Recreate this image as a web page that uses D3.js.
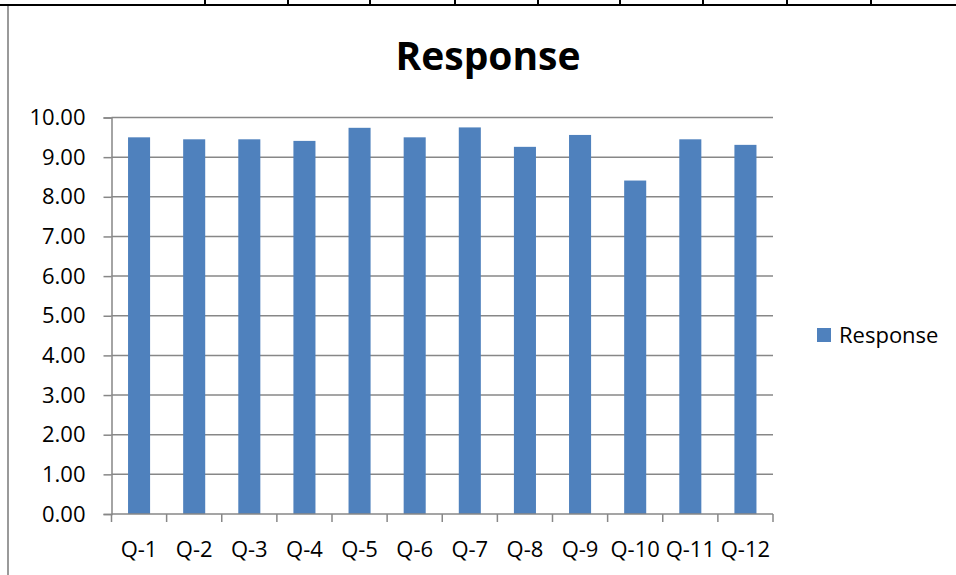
<!DOCTYPE html>
<html>
<head>
<meta charset="utf-8">
<script src="https://cdn.jsdelivr.net/npm/d3@7"></script>
<style>
  html, body { margin: 0; padding: 0; background: #fff; }
  svg { display: block; }
</style>
</head>
<body>
<svg id="chart" width="956" height="575"></svg>
<script>
// ---- data ----
const categories = ["Q-1","Q-2","Q-3","Q-4","Q-5","Q-6","Q-7","Q-8","Q-9","Q-10","Q-11","Q-12"];
const responseValues = [9.50, 9.45, 9.45, 9.41, 9.74, 9.50, 9.75, 9.26, 9.56, 8.41, 9.45, 9.31];
const yTickValues = [0, 1, 2, 3, 4, 5, 6, 7, 8, 9, 10];
const seriesName = "Response";
const chartTitle = "Response";

// ---- layout ----
const W = 956, H = 575;
const plot = { left: 111.5, right: 773, top: 117.5, bottom: 514 };
const font = "'Open Sans', Lato, sans-serif";
const barColor = "#4F81BD";
const gridColor = "#878787";
const labelSize = 22;

const svg = d3.select("#chart");

// spreadsheet cell borders (decoration)
const cellBorderX = [205, 288, 370, 455, 538, 620, 703, 787, 871];
svg.append("line").attr("x1", 0).attr("x2", W).attr("y1", 5).attr("y2", 5)
  .attr("stroke", "#000").attr("stroke-width", 2.2);
svg.selectAll("line.cell").data(cellBorderX).join("line")
  .attr("class", "cell")
  .attr("x1", d => d).attr("x2", d => d).attr("y1", 0).attr("y2", 5)
  .attr("stroke", "#000").attr("stroke-width", 2);
svg.append("line").attr("x1", 8).attr("x2", 8).attr("y1", 6).attr("y2", H)
  .attr("stroke", "#9a9a9a").attr("stroke-width", 2);

// scales
const x = d3.scaleBand().domain(categories).range([plot.left, plot.right])
  .paddingInner(0.6).paddingOuter(0.3);
const y = d3.scaleLinear().domain([0, 10]).range([plot.bottom, plot.top]);

// gridlines
svg.append("g").selectAll("line").data(yTickValues.filter(d => d > 0)).join("line")
  .attr("x1", plot.left).attr("x2", plot.right)
  .attr("y1", d => y(d)).attr("y2", d => y(d))
  .attr("stroke", gridColor).attr("stroke-width", 1.5);

// y axis
const yAxis = d3.axisLeft(y).tickValues(yTickValues).tickSize(8).tickPadding(18)
  .tickFormat(d3.format(".2f"));
const gy = svg.append("g").attr("transform", `translate(${plot.left},0)`).call(yAxis);
gy.select(".domain").attr("stroke", gridColor).attr("stroke-width", 1.5);
gy.selectAll(".tick line").attr("stroke", gridColor).attr("stroke-width", 1.5);
gy.selectAll(".tick text").attr("font-family", font).attr("font-size", labelSize)
  .attr("fill", "#000");

// bars
svg.append("g").selectAll("rect").data(categories).join("rect")
  .attr("x", d => x(d))
  .attr("width", x.bandwidth())
  .attr("y", (d, i) => y(responseValues[i]))
  .attr("height", (d, i) => y(0) - y(responseValues[i]))
  .attr("fill", barColor);

// x axis line and ticks at category boundaries
const nCat = categories.length;
svg.append("line").attr("x1", plot.left).attr("x2", plot.right)
  .attr("y1", y(0)).attr("y2", y(0)).attr("stroke", gridColor).attr("stroke-width", 1.5);
svg.append("g").selectAll("line").data(d3.range(nCat + 1)).join("line")
  .attr("x1", i => plot.left + i * (plot.right - plot.left) / nCat)
  .attr("x2", i => plot.left + i * (plot.right - plot.left) / nCat)
  .attr("y1", y(0)).attr("y2", y(0) + 8)
  .attr("stroke", gridColor).attr("stroke-width", 1.5);

// x labels
svg.append("g").selectAll("text").data(categories).join("text")
  .attr("x", d => x(d) + x.bandwidth() / 2)
  .attr("y", 557)
  .attr("text-anchor", "middle")
  .attr("font-family", font).attr("font-size", labelSize).attr("fill", "#000")
  .text(d => d);

// title
svg.append("text").attr("x", 488).attr("y", 70).attr("text-anchor", "middle")
  .attr("font-family", font).attr("font-weight", "bold").attr("font-size", 39)
  .attr("fill", "#000").text(chartTitle);

// legend
svg.append("rect").attr("x", 817).attr("y", 328).attr("width", 14).attr("height", 14)
  .attr("fill", barColor);
svg.append("text").attr("x", 839).attr("y", 343)
  .attr("font-family", font).attr("font-size", labelSize).attr("fill", "#000")
  .text(seriesName);
</script>
</body>
</html>
